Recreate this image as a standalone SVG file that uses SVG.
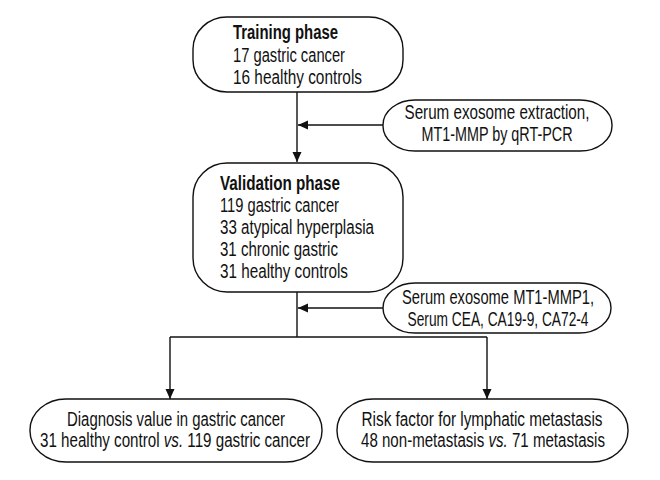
<svg xmlns="http://www.w3.org/2000/svg" width="660" height="480" viewBox="0 0 660 480">
<defs>
<marker id="arr" viewBox="0 0 10 10" refX="10" refY="5" markerWidth="10" markerHeight="10" markerUnits="userSpaceOnUse" orient="auto">
<path d="M0,0.5 L10,5 L0,9.5 Z" fill="#111"/>
</marker>
<style>
.box{fill:#fff;stroke:#111;stroke-width:1.4}
.t{font-family:"Liberation Sans",Arial,sans-serif;font-size:20px;fill:#111}
.b{font-weight:bold}
.c{text-anchor:middle}
.ln{fill:none;stroke:#111;stroke-width:1.4}
</style>
</defs>
<rect width="660" height="480" fill="#fff"/>
<g id="connectors">
<path class="ln" d="M297,92 V162" marker-end="url(#arr)"/>
<path class="ln" d="M383,125 H298" marker-end="url(#arr)"/>
<path class="ln" d="M297,292 V337"/>
<path class="ln" d="M383,308 H298" marker-end="url(#arr)"/>
<path class="ln" d="M170,337 H487"/>
<path class="ln" d="M170,337 V399" marker-end="url(#arr)"/>
<path class="ln" d="M487,337 V399" marker-end="url(#arr)"/>
</g>
<g id="training">
<rect class="box" x="193" y="17" width="210" height="75" rx="34" ry="32"/>
<text class="t b" x="233" y="39" textLength="105" lengthAdjust="spacingAndGlyphs">Training phase</text>
<text class="t" x="233" y="62" textLength="112" lengthAdjust="spacingAndGlyphs">17 gastric cancer</text>
<text class="t" x="233" y="84" textLength="129" lengthAdjust="spacingAndGlyphs">16 healthy controls</text>
</g>
<g id="extraction">
<rect class="box" x="383" y="100" width="229" height="51" rx="32" ry="25"/>
<text class="t c" x="497" y="119" textLength="185" lengthAdjust="spacingAndGlyphs">Serum exosome extraction,</text>
<text class="t c" x="497" y="141" textLength="151" lengthAdjust="spacingAndGlyphs">MT1-MMP by qRT-PCR</text>
</g>
<g id="validation">
<rect class="box" x="193" y="163" width="210" height="129" rx="34" ry="34"/>
<text class="t b" x="220" y="190" textLength="120" lengthAdjust="spacingAndGlyphs">Validation phase</text>
<text class="t" x="220" y="212" textLength="119" lengthAdjust="spacingAndGlyphs">119 gastric cancer</text>
<text class="t" x="220" y="234" textLength="154" lengthAdjust="spacingAndGlyphs">33 atypical hyperplasia</text>
<text class="t" x="220" y="256" textLength="118" lengthAdjust="spacingAndGlyphs">31 chronic gastric</text>
<text class="t" x="220" y="278" textLength="128" lengthAdjust="spacingAndGlyphs">31 healthy controls</text>
</g>
<g id="markers">
<rect class="box" x="383" y="283" width="228" height="50" rx="32" ry="25"/>
<text class="t c" x="498" y="304" textLength="192" lengthAdjust="spacingAndGlyphs">Serum exosome MT1-MMP1,</text>
<text class="t c" x="498" y="326" textLength="181" lengthAdjust="spacingAndGlyphs">Serum CEA, CA19-9, CA72-4</text>
</g>
<g id="diagnosis">
<rect class="box" x="30" y="399" width="292" height="63" rx="36" ry="31"/>
<text class="t c" x="176" y="426" textLength="218" lengthAdjust="spacingAndGlyphs">Diagnosis value in gastric cancer</text>
<text class="t c" x="175" y="447" textLength="270" lengthAdjust="spacingAndGlyphs">31 healthy control <tspan font-style="italic">vs.</tspan> 119 gastric cancer</text>
</g>
<g id="risk">
<rect class="box" x="337" y="399" width="291" height="63" rx="36" ry="31"/>
<text class="t c" x="482" y="426" textLength="241" lengthAdjust="spacingAndGlyphs">Risk factor for lymphatic metastasis</text>
<text class="t c" x="483" y="447" textLength="244" lengthAdjust="spacingAndGlyphs">48 non-metastasis <tspan font-style="italic">vs.</tspan> 71 metastasis</text>
</g>
</svg>
